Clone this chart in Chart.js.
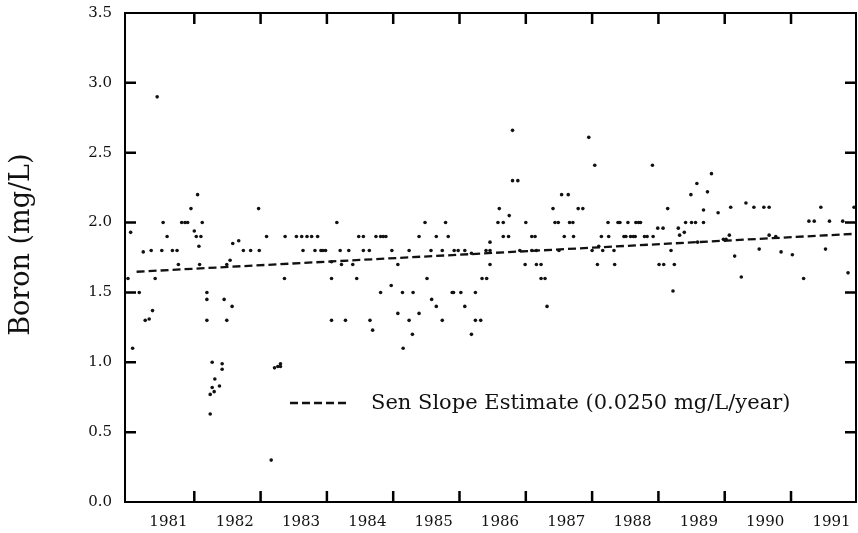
<!DOCTYPE html>
<html>
<head>
<meta charset="utf-8">
<script src="https://cdn.jsdelivr.net/npm/chart.js@4.4.1/dist/chart.umd.min.js"></script>
<style>
  html, body { margin: 0; padding: 0; background: #fff; }
  #wrap { width: 858px; height: 533px; }
</style>
</head>
<body>
<div id="wrap"><canvas id="chart"></canvas></div>
<script>
// sample dates (decimal years) and boron concentrations (mg/L)
const sampleDates = [
  1981.00, 1981.04, 1981.07, 1981.17, 1981.23, 1981.26, 1981.32, 1981.35, 1981.37, 1981.41,
  1981.44, 1981.51, 1981.53, 1981.59, 1981.67, 1981.74, 1981.76, 1981.81, 1981.86, 1981.90,
  1981.95, 1982.00, 1982.03, 1982.05, 1982.07, 1982.08, 1982.10, 1982.12, 1982.19, 1982.19,
  1982.19, 1982.24, 1982.24, 1982.27, 1982.27, 1982.30, 1982.31, 1982.38, 1982.42, 1982.42,
  1982.45, 1982.49, 1982.49, 1982.54, 1982.57, 1982.58, 1982.67, 1982.74, 1982.85, 1982.97,
  1982.98, 1983.09, 1983.16, 1983.21, 1983.26, 1983.30, 1983.30, 1983.36, 1983.37, 1983.54,
  1983.62, 1983.64, 1983.70, 1983.77, 1983.82, 1983.86, 1983.91, 1983.94, 1983.98, 1984.07,
  1984.07, 1984.07, 1984.15, 1984.20, 1984.22, 1984.28, 1984.33, 1984.39, 1984.45, 1984.48,
  1984.55, 1984.55, 1984.64, 1984.65, 1984.69, 1984.74, 1984.81, 1984.81, 1984.85, 1984.89,
  1984.97, 1984.98, 1985.07, 1985.07, 1985.14, 1985.15, 1985.24, 1985.24, 1985.29, 1985.30,
  1985.39, 1985.39, 1985.48, 1985.51, 1985.57, 1985.58, 1985.65, 1985.65, 1985.74, 1985.74,
  1985.79, 1985.83, 1985.89, 1985.91, 1985.92, 1985.98, 1986.02, 1986.08, 1986.08, 1986.18,
  1986.18, 1986.24, 1986.24, 1986.32, 1986.34, 1986.40, 1986.41, 1986.46, 1986.46, 1986.46,
  1986.58, 1986.60, 1986.66, 1986.66, 1986.74, 1986.75, 1986.80, 1986.80, 1986.88, 1986.91,
  1986.99, 1987.00, 1987.09, 1987.09, 1987.14, 1987.16, 1987.16, 1987.23, 1987.23, 1987.29,
  1987.32, 1987.41, 1987.44, 1987.49, 1987.50, 1987.54, 1987.58, 1987.64, 1987.66, 1987.71,
  1987.72, 1987.79, 1987.86, 1987.95, 1988.00, 1988.04, 1988.08, 1988.10, 1988.14, 1988.16,
  1988.24, 1988.25, 1988.33, 1988.34, 1988.39, 1988.42, 1988.48, 1988.51, 1988.54, 1988.58,
  1988.62, 1988.65, 1988.66, 1988.70, 1988.73, 1988.79, 1988.83, 1988.91, 1988.92, 1988.99,
  1989.01, 1989.07, 1989.08, 1989.14, 1989.19, 1989.22, 1989.24, 1989.30, 1989.32, 1989.39,
  1989.41, 1989.49, 1989.50, 1989.56, 1989.58, 1989.59, 1989.68, 1989.68, 1989.74, 1989.80,
  1989.90, 1989.98, 1990.02, 1990.07, 1990.09, 1990.15, 1990.25, 1990.32, 1990.44, 1990.52,
  1990.59, 1990.67, 1990.67, 1990.77, 1990.85, 1991.02, 1991.19, 1991.27, 1991.35, 1991.45,
  1991.52, 1991.58, 1991.78, 1991.86, 1991.95
];
const boron = [
  1.60, 1.93, 1.10, 1.50, 1.79, 1.30, 1.31, 1.80, 1.37, 1.60,
  2.90, 1.80, 2.00, 1.90, 1.80, 1.80, 1.70, 2.00, 2.00, 2.00,
  2.10, 1.94, 1.90, 2.20, 1.83, 1.70, 1.90, 2.00, 1.50, 1.45,
  1.30, 0.63, 0.77, 1.00, 0.82, 0.79, 0.88, 0.83, 0.99, 0.95,
  1.45, 1.30, 1.70, 1.73, 1.40, 1.85, 1.87, 1.80, 1.80, 2.10,
  1.80, 1.90, 0.30, 0.96, 0.97, 0.99, 0.97, 1.60, 1.90, 1.90,
  1.90, 1.80, 1.90, 1.90, 1.80, 1.90, 1.80, 1.80, 1.80, 1.60,
  1.30, 1.72, 2.00, 1.80, 1.70, 1.30, 1.80, 1.70, 1.60, 1.90,
  1.90, 1.80, 1.80, 1.30, 1.23, 1.90, 1.90, 1.50, 1.90, 1.90,
  1.55, 1.80, 1.70, 1.35, 1.50, 1.10, 1.80, 1.30, 1.20, 1.50,
  1.90, 1.35, 2.00, 1.60, 1.80, 1.45, 1.90, 1.40, 1.80, 1.30,
  2.00, 1.90, 1.50, 1.50, 1.80, 1.80, 1.50, 1.80, 1.40, 1.20,
  1.78, 1.50, 1.30, 1.30, 1.60, 1.80, 1.60, 1.86, 1.80, 1.70,
  2.00, 2.10, 2.00, 1.90, 1.90, 2.05, 2.66, 2.30, 2.30, 1.80,
  1.70, 2.00, 1.90, 1.80, 1.90, 1.80, 1.70, 1.70, 1.60, 1.60,
  1.40, 2.10, 2.00, 2.00, 1.80, 2.20, 1.90, 2.20, 2.00, 2.00,
  1.90, 2.10, 2.10, 2.61, 1.80, 2.41, 1.70, 1.83, 1.90, 1.80,
  2.00, 1.90, 1.80, 1.70, 2.00, 2.00, 1.90, 1.90, 2.00, 1.90,
  1.90, 1.90, 2.00, 2.00, 2.00, 1.90, 1.90, 2.41, 1.90, 1.96,
  1.70, 1.96, 1.70, 2.10, 1.80, 1.51, 1.70, 1.96, 1.91, 1.93,
  2.00, 2.20, 2.00, 2.00, 2.28, 1.86, 2.09, 2.00, 2.22, 2.35,
  2.07, 1.88, 1.88, 1.91, 2.11, 1.76, 1.61, 2.14, 2.11, 1.81,
  2.11, 2.11, 1.91, 1.90, 1.79, 1.77, 1.60, 2.01, 2.01, 2.11,
  1.81, 2.01, 2.01, 1.64, 2.11
];

// Sen slope trend line end points
const trendDates = [1981.13, 1991.98];
const trendValues = [1.648, 1.92];
const trendLabel = 'Sen Slope Estimate (0.0250 mg/L/year)';

const yearLabels = ['1981', '1982', '1983', '1984', '1985', '1986', '1987', '1988', '1989', '1990', '1991'];
const tickYears = [1982, 1983, 1984, 1985, 1986, 1987, 1988, 1989, 1990, 1991];
const yTicks = [0, 0.5, 1.0, 1.5, 2.0, 2.5, 3.0, 3.5];

const points = sampleDates.map((d, i) => ({ x: d, y: boron[i] }));
const trend = trendDates.map((d, i) => ({ x: d, y: trendValues[i] }));

const serif = '"DejaVu Serif", serif';

// box round the plot with inward tick marks, plus the legend entry
const frameTicks = {
  id: 'frameTicks',
  afterDraw(chart) {
    const { ctx, chartArea: a, scales } = chart;
    const xs = scales.x, ys = scales.y;
    ctx.save();
    ctx.setLineDash([]);
    ctx.strokeStyle = '#000';
    ctx.lineWidth = 2;
    ctx.strokeRect(a.left, a.top, a.right - a.left, a.bottom - a.top);

    ctx.lineWidth = 2.5;
    ctx.beginPath();
    tickYears.forEach((yr) => {
      const px = xs.getPixelForValue(yr);
      ctx.moveTo(px, a.bottom);
      ctx.lineTo(px, a.bottom - 11);
      ctx.moveTo(px, a.top);
      ctx.lineTo(px, a.top + 11);
    });
    yTicks.slice(1, -1).forEach((v) => {
      const py = ys.getPixelForValue(v);
      ctx.moveTo(a.left, py);
      ctx.lineTo(a.left + 11, py);
      ctx.moveTo(a.right, py);
      ctx.lineTo(a.right - 11, py);
    });
    ctx.stroke();

    // legend
    const lx = a.left + 165, ly = a.top + 390;
    ctx.strokeStyle = '#111';
    ctx.lineWidth = 2.3;
    ctx.setLineDash([8, 4]);
    ctx.beginPath();
    ctx.moveTo(lx, ly);
    ctx.lineTo(lx + 60, ly);
    ctx.stroke();
    ctx.setLineDash([]);
    ctx.fillStyle = '#111';
    ctx.font = '21px ' + serif;
    ctx.textBaseline = 'middle';
    ctx.fillText(trendLabel, lx + 81, ly + 1);
    ctx.restore();
  }
};

new Chart(document.getElementById('chart'), {
  type: 'scatter',
  data: {
    datasets: [
      {
        label: 'Boron',
        data: points,
        backgroundColor: '#111',
        borderWidth: 0,
        pointRadius: 1.8,
        pointHoverRadius: 1.8,
      },
      {
        type: 'line',
        label: trendLabel,
        data: trend,
        borderColor: '#111',
        borderWidth: 2.3,
        borderDash: [8, 4],
        pointRadius: 0,
        fill: false,
      },
    ],
  },
  options: {
    responsive: true,
    maintainAspectRatio: false,
    animation: false,
    events: [],
    layout: { padding: { left: 6, right: 2, top: 13, bottom: 0 } },
    plugins: {
      legend: { display: false },
      tooltip: { enabled: false },
    },
    scales: {
      x: {
        type: 'linear',
        min: 1980.955,
        max: 1991.98,
        grid: { display: false, drawTicks: false },
        border: { display: false },
        afterBuildTicks: (axis) => {
          axis.ticks = yearLabels.map((y) => ({ value: Number(y) + 0.61 }));
        },
        afterFit: (scale) => {
          scale.height = 31;
          scale.paddingLeft = 0;
          scale.paddingRight = 0;
        },
        ticks: {
          padding: 11,
          maxRotation: 0,
          autoSkip: false,
          color: '#111',
          font: { family: serif, size: 15 },
          callback: (v, i) => yearLabels[i],
        },
      },
      y: {
        min: 0,
        max: 3.5,
        grid: { display: false, drawTicks: false },
        border: { display: false },
        afterBuildTicks: (axis) => {
          axis.ticks = yTicks.map((v) => ({ value: v }));
        },
        afterFit: (scale) => {
          scale.width = 119;
          scale.paddingTop = 0;
          scale.paddingBottom = 0;
        },
        ticks: {
          padding: 13,
          color: '#111',
          font: { family: serif, size: 15 },
          callback: (v) => Number(v).toFixed(1),
        },
        title: {
          display: true,
          text: '   Boron (mg/L)',
          color: '#111',
          font: { family: serif, size: 27 },
          padding: { top: 0, bottom: 40 },
        },
      },
    },
  },
  plugins: [frameTicks],
});
</script>
</body>
</html>
